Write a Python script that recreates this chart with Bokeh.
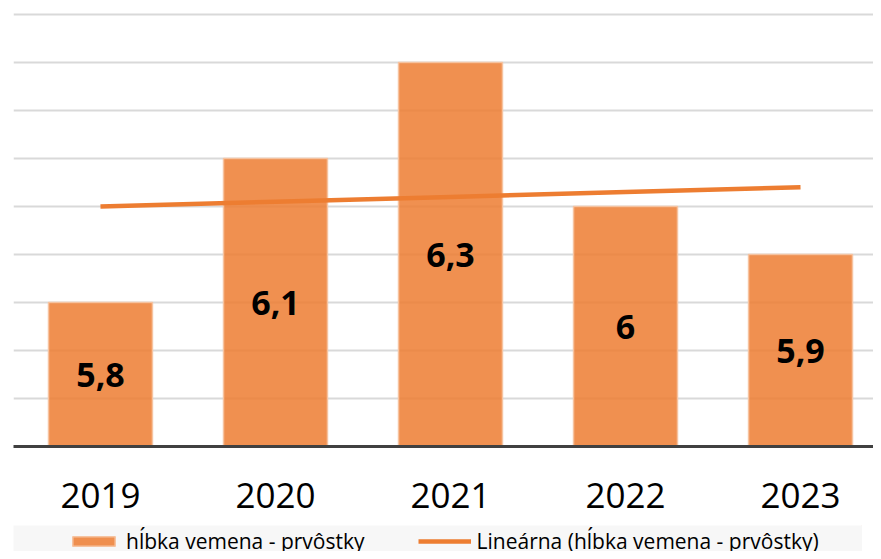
import numpy as np
from bokeh.plotting import figure
from bokeh.layouts import column
from bokeh.models import ColumnDataSource, FixedTicker, Legend, LegendItem, Range1d
from bokeh.core.properties import value
from bokeh.embed import file_html
from bokeh.resources import INLINE

# ---- data ----
years = [2019, 2020, 2021, 2022, 2023]
values = [5.8, 6.1, 6.3, 6.0, 5.9]
value_labels = ["5,8", "6,1", "6,3", "6", "5,9"]
y_ticks = [5.5, 5.6, 5.7, 5.8, 5.9, 6.0, 6.1, 6.2, 6.3, 6.4]
series_name = "hĺbka vemena - prvôstky"
trend_name = "Lineárna (hĺbka vemena - prvôstky)"

BAR_STYLE = dict(fill_color="#ED7D31", fill_alpha=0.85, line_color="#F6C3A0", line_width=1.5)
LINE_STYLE = dict(line_color="#ED7D31", line_width=4.5)

y_base = 5.5
slope, intercept = np.polyfit(years, values, 1)
trend = [slope * x + intercept for x in years]

src = ColumnDataSource(dict(
    x=years, top=values, lbl=value_labels,
    mid=[(v + y_base) / 2 for v in values],
    trend=trend,
))

p = figure(width=873, height=517, output_backend="svg", toolbar_location=None,
           x_range=Range1d(years[0] - 0.497, years[-1] + 0.417),
           y_range=Range1d(y_base, y_base + 438 / 480),
           min_border_left=13, min_border_right=0, min_border_top=8,
           min_border_bottom=71)
p.outline_line_color = None
p.background_fill_color = "white"
p.border_fill_color = "white"

bars = p.vbar(x="x", top="top", bottom=y_base, width=0.594, source=src, **BAR_STYLE)
tl = p.line(x="x", y="trend", source=src, **LINE_STYLE)

p.text(x="x", y="mid", text="lbl", source=src, text_align="center",
       text_baseline="middle", text_font=value("Open Sans"),
       text_font_style="bold", text_font_size="34px", text_color="black")

p.yaxis.visible = False
p.ygrid.ticker = FixedTicker(ticks=y_ticks)
p.ygrid.grid_line_color = "#d9d9d9"
p.ygrid.grid_line_width = 2
p.xgrid.visible = False

ax = p.xaxis[0]
ax.ticker = FixedTicker(ticks=years)
ax.major_label_overrides = {y: str(y) for y in years}
ax.major_tick_line_color = None
ax.minor_tick_line_color = None
ax.axis_line_color = "#404040"
ax.axis_line_width = 3
ax.major_label_text_font = "Open Sans"
ax.major_label_text_font_size = "35px"
ax.major_label_text_color = "black"
ax.major_label_standoff = 30

# ---- legend strip (its own small figure; proxy glyphs lie outside its view) ----
lg = figure(width=862, height=34, output_backend="svg", toolbar_location=None,
            x_range=Range1d(0, 1), y_range=Range1d(0, 1),
            min_border_left=13, min_border_right=0, min_border_top=8,
            min_border_bottom=0)
lg.axis.visible = False
lg.grid.visible = False
lg.outline_line_color = None
lg.background_fill_color = "#f7f7f7"
lg.border_fill_color = "white"
lb = lg.vbar(x=years[:1], top=values[:1], bottom=y_base, width=0.594, **BAR_STYLE)
ll = lg.line(x=years, y=trend, **LINE_STYLE)

legend = Legend(items=[LegendItem(label=series_name, renderers=[lb]),
                       LegendItem(label=trend_name, renderers=[ll])],
                orientation="horizontal", location=(54, -4),
                glyph_width=53, glyph_height=12, label_standoff=6, spacing=53,
                label_text_font="Open Sans", label_text_font_size="21px",
                label_text_color="black",
                background_fill_alpha=0, border_line_color=None,
                padding=0, margin=0)
lg.add_layout(legend, "center")

layout = column(p, lg, spacing=0)
open("out.html", "w").write(file_html(layout, INLINE))
